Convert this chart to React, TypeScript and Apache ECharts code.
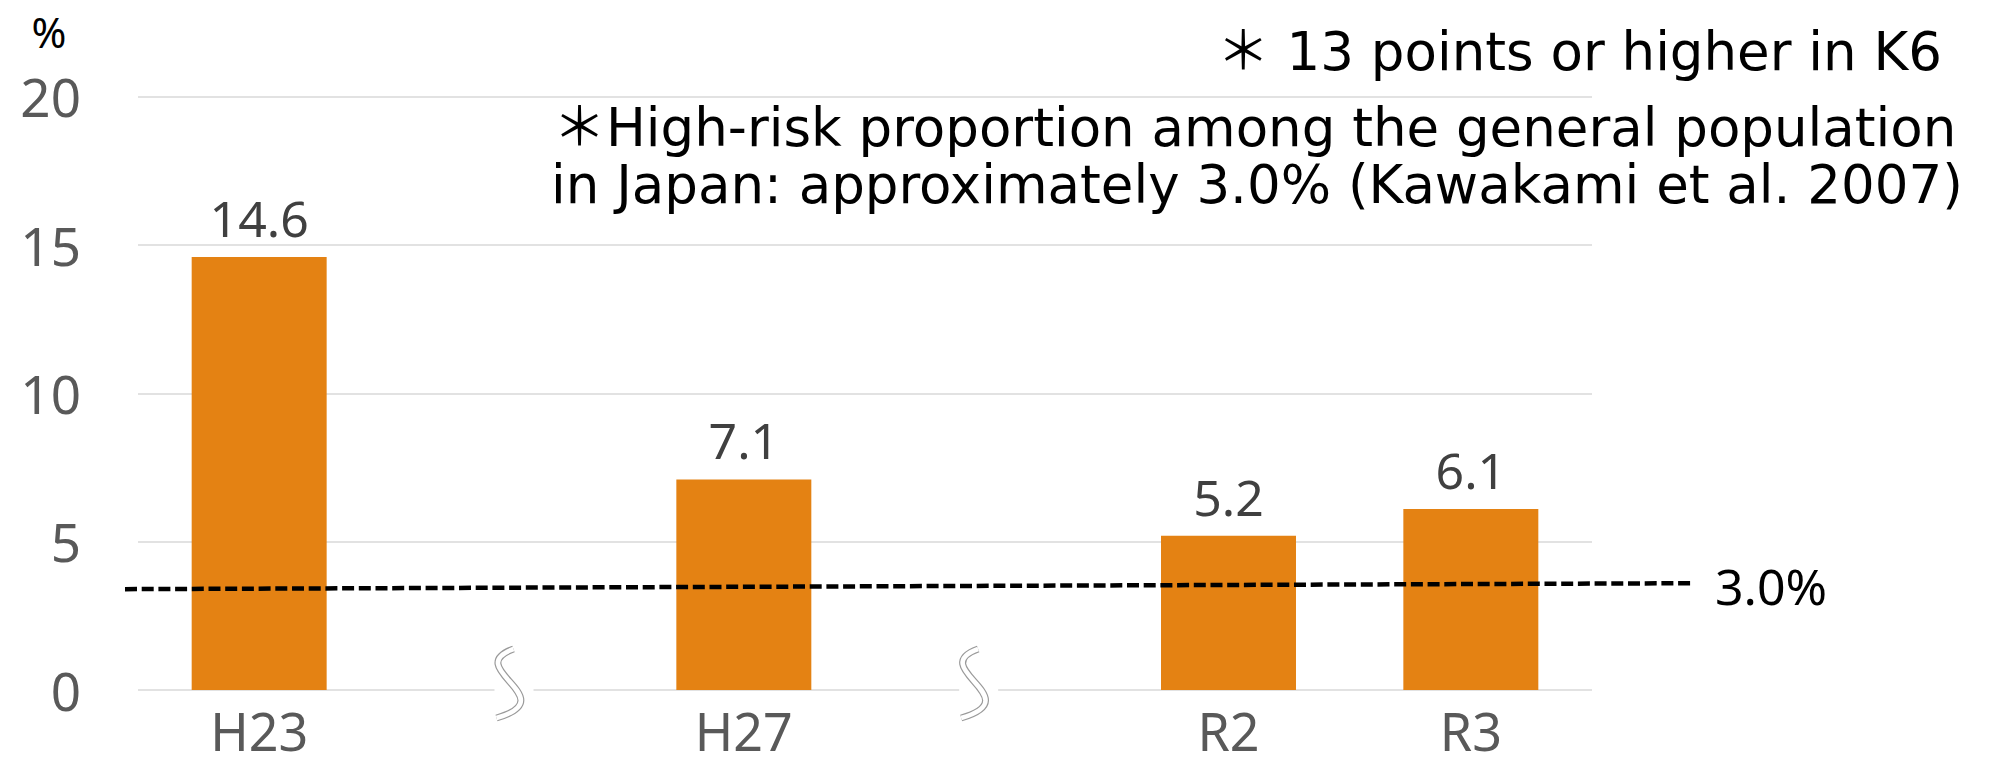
import React, { useEffect, useRef } from 'react';
import * as echarts from 'echarts';

// ---- data ----
const categories: string[] = ['H23', '', 'H27', '', 'R2', 'R3'];
const highRiskPercent: (number | string)[] = [14.6, '-', 7.1, '-', 5.2, 6.1];
const yMin = 0;
const yMax = 20;
const yInterval = 5;
const breakSlots: number[] = [1, 3];
const unitLabel = '%';
const referenceLabel = '3.0%';
const referenceLineFrom = 3.4; // as drawn at the left end
const referenceLineTo = 3.6; // as drawn at the right end
const noteLine1 = '＊ 13 points or higher in K6';
const noteLine2 = '＊High-risk proportion among the general population';
const noteLine3 = 'in Japan: approximately 3.0% (Kawakami et al. 2007)';

const BAR_COLOR = '#E48213';
const NOTE_FONT = '"DejaVu Sans", "Noto Sans CJK JP", sans-serif';

export default function App() {
  const ref = useRef<HTMLDivElement>(null);

  useEffect(() => {
    const chart = echarts.init(ref.current!, null, { renderer: 'svg' });
    chart.setOption({
      animation: false,
      grid: { left: 138, right: 403, top: 96.7, bottom: 75, containLabel: false },
      xAxis: {
        type: 'category',
        data: categories,
        axisLine: { show: false },
        axisTick: { show: false },
        axisLabel: { color: '#595959', fontSize: 52, lineHeight: 40, fontFamily: 'Noto Sans', margin: 20, interval: 0 },
      },
      yAxis: {
        type: 'value',
        min: yMin,
        max: yMax,
        interval: yInterval,
        axisLine: { show: false },
        axisTick: { show: false },
        axisLabel: { color: '#595959', fontSize: 53, fontFamily: 'Noto Sans', margin: 57 },
        splitLine: { lineStyle: { color: '#d9d9d9', width: 1.5 } },
      },
      series: [
        {
          type: 'bar',
          data: highRiskPercent,
          barWidth: '55.7%',
          itemStyle: { color: BAR_COLOR },
          label: {
            show: true,
            position: 'top',
            distance: 14,
            color: '#404040',
            fontSize: 50,
            fontFamily: 'Noto Sans',
            formatter: (p: any) => Number(p.value).toFixed(1),
          },
        },
      ],
    });

    const px = (cat: number, v: number) => chart.convertToPixel({ gridIndex: 0 }, [cat, v]) as number[];
    const c0 = px(0, 0);
    const c1 = px(1, 0);
    const band = c1[0] - c0[0];
    const gridLeft = c0[0] - band / 2;
    const gridRight = px(categories.length - 1, 0)[0] + band / 2;
    const axisY = c0[1];

    const graphics: any[] = [];

    // axis breaks
    breakSlots.forEach((s) => {
      const cx = px(s, 0)[0] + (s === 1 ? 9 : -11);
      const shape = {
        x1: cx + 3, y1: axisY - 41,
        cpx1: cx - 50, cpy1: axisY - 22,
        cpx2: cx + 55, cpy2: axisY + 8,
        x2: cx - 14, y2: axisY + 28,
      };
      graphics.push({
        type: 'rect', z: 100,
        shape: { x: cx - 16, y: axisY - 3, width: 39, height: 6 },
        style: { fill: '#fff' },
      });
      graphics.push({
        type: 'bezierCurve', z: 101, shape,
        style: { stroke: '#9a9a9a', lineWidth: 7, fill: 'none' },
      });
      graphics.push({
        type: 'bezierCurve', z: 102, shape,
        style: { stroke: '#fff', lineWidth: 4.6, fill: 'none' },
      });
    });

    // reference dashed line
    const yFrom = px(0, referenceLineFrom)[1];
    const yTo = px(0, referenceLineTo)[1];
    const xFrom = gridLeft - 13;
    const xTo = gridRight + 101;
    graphics.push({
      type: 'polyline', z: 110,
      shape: { points: [[xFrom, yFrom], [xTo, yTo]] },
      style: { stroke: '#000', lineWidth: 4.5, lineDash: [12, 4.7], fill: 'none' },
    });
    graphics.push({
      type: 'text', z: 110, x: xTo + 22, y: yTo + 3,
      style: { text: referenceLabel, fill: '#000', fontSize: 50, fontFamily: 'Noto Sans', align: 'left', verticalAlign: 'middle' },
    });

    // unit label
    graphics.push({
      type: 'text', z: 110, x: 49, y: 31,
      style: { text: unitLabel, fill: '#000', fontSize: 42, fontFamily: 'Noto Sans', align: 'center', verticalAlign: 'middle' },
    });

    // notes
    graphics.push({
      type: 'text', z: 110, x: 1942, y: 51,
      style: { text: noteLine1, fill: '#000', fontSize: 53, fontFamily: NOTE_FONT, align: 'right', verticalAlign: 'middle' },
    });
    graphics.push({
      type: 'text', z: 110, x: 553, y: 127,
      style: { text: noteLine2, fill: '#000', fontSize: 53, fontFamily: NOTE_FONT, align: 'left', verticalAlign: 'middle', lineHeight: 50 },
    });
    graphics.push({
      type: 'text', z: 110, x: 551, y: 184,
      style: { text: noteLine3, fill: '#000', fontSize: 53, fontFamily: NOTE_FONT, align: 'left', verticalAlign: 'middle', lineHeight: 50 },
    });

    chart.setOption({ graphic: graphics });

    return () => chart.dispose();
  }, []);

  return (
    <div
      ref={ref}
      style={{ position: 'fixed', left: 0, top: 0, width: 1995, height: 765, background: '#fff' }}
    />
  );
}
